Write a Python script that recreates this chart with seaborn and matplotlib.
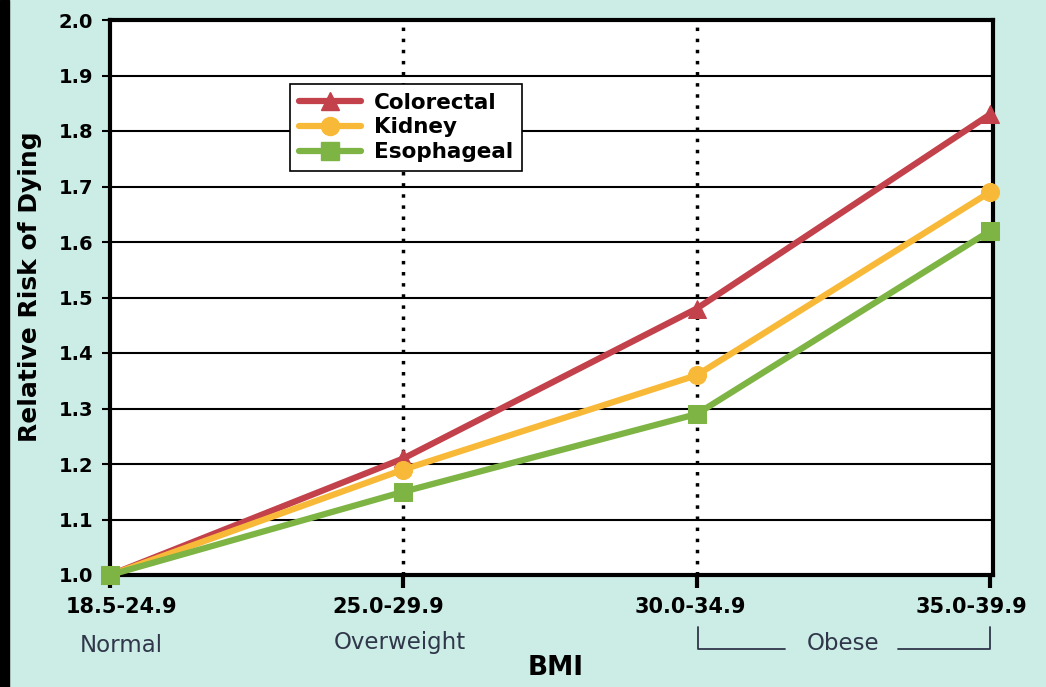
import matplotlib
matplotlib.use("Agg")
import matplotlib.pyplot as plt
import matplotlib.transforms as mtransforms
from matplotlib.lines import Line2D
from matplotlib.patches import Rectangle
import seaborn as sns
import pandas as pd
import numpy as np

# ---- data ----
bmi_ranges = ["18.5-24.9", "25.0-29.9", "30.0-34.9", "35.0-39.9"]
bmi_classes = ["Normal", "Overweight", "Obese"]
series_names = ["Colorectal", "Kidney", "Esophageal"]
colorectal = [1.00, 1.21, 1.48, 1.83]
kidney = [1.00, 1.19, 1.36, 1.69]
esophageal = [1.00, 1.15, 1.29, 1.62]
y_ticks = [1.0, 1.1, 1.2, 1.3, 1.4, 1.5, 1.6, 1.7, 1.8, 1.9, 2.0]

colors = {"Colorectal": "#c2414b", "Kidney": "#f8b938", "Esophageal": "#7db443"}
markers = {"Colorectal": "^", "Kidney": "o", "Esophageal": "s"}

df = pd.DataFrame({
    "BMI": bmi_ranges * 3,
    "Risk": colorectal + kidney + esophageal,
    "Cancer": sum([[n] * len(bmi_ranges) for n in series_names], []),
})

sns.set_theme(style="white")
plt.rcParams["font.family"] = ["DejaVu Sans"]
plt.rcParams["text.color"] = "black"
plt.rcParams["xtick.color"] = "black"
plt.rcParams["ytick.color"] = "black"

BG = "#cbede6"
W, H = 1046, 687
fig = plt.figure(figsize=(W / 100, H / 100), dpi=100, facecolor=BG)
ax = fig.add_axes([110 / W, 1 - 575 / H, (993 - 110) / W, (575 - 20) / H])
ax.set_facecolor("white")

# grid and dotted separators
for y in y_ticks[1:-1]:
    ax.axhline(y, color="black", lw=1.5, zorder=1)
for xv in [1, 2]:
    ax.axvline(xv, color="black", lw=2.5, ls=(0, (1, 2.2)), zorder=1)

sns.lineplot(data=df, x="BMI", y="Risk", hue="Cancer", style="Cancer",
             palette=colors, markers=markers, dashes=False, sort=False,
             linewidth=4.5, markersize=13, legend=False, ax=ax, zorder=3)

for line in ax.lines:
    if line.get_marker() not in (None, "None", ""):
        line.set_markeredgecolor(line.get_color())
        line.set_clip_on(False)

ax.set_xlim(0, 3.01)
ax.set_ylim(1.0, 2.0)
ax.set_yticks(y_ticks)
ax.set_yticklabels([f"{v:.1f}" for v in y_ticks], fontsize=14, fontweight="bold",
                   color="black")
ax.set_xticks(range(len(bmi_ranges)))
ax.set_xticklabels([])

ax.tick_params(axis="x", length=9, width=3, color="black", bottom=True)
ax.tick_params(axis="y", length=6, width=1.5, color="black", pad=6, left=True)

# x tick labels, slightly offset like the reference
blend = mtransforms.blended_transform_factory(ax.transData, fig.transFigure)
shifts = [11, -15, -6, -19]
for i, (lab, dx) in enumerate(zip(bmi_ranges, shifts)):
    tr = blend + mtransforms.ScaledTranslation(dx / 100, 0, fig.dpi_scale_trans)
    ax.text(i, 1 - 607 / H, lab, transform=tr, ha="center", va="center",
            fontsize=15, fontweight="bold", color="black", clip_on=False)

for s in ax.spines.values():
    s.set_color("black")
    s.set_linewidth(3)

ax.set_xlabel("")
ax.set_ylabel("")

# legend
handles = [Line2D([], [], color=colors[n], marker=markers[n], lw=4.5,
                  markersize=13, markeredgecolor=colors[n]) for n in series_names]
leg = ax.legend(handles, series_names, loc="upper left",
                bbox_to_anchor=((290 - 110) / (993 - 110), 1 - (84 - 20) / 555),
                borderaxespad=0, frameon=True, fancybox=False, edgecolor="black",
                framealpha=1, handlelength=2.9, handletextpad=0.6,
                labelspacing=0.22, borderpad=0.4,
                prop={"weight": "bold", "size": 15.5})
leg.get_frame().set_linewidth(1.2)
for t in leg.get_texts():
    t.set_color("black")

# axis labels
fig.text(30 / W, 1 - 287 / H, "Relative Risk of Dying", rotation=90,
         ha="center", va="center", fontsize=18, fontweight="bold", color="black")
fig.text(556 / W, 1 - 668 / H, "BMI", ha="center", va="center",
         fontsize=19, fontweight="bold", color="black")

# BMI class labels
cls_color = "#30374a"
fig.text(121 / W, 1 - 645 / H, bmi_classes[0], ha="center", va="center",
         fontsize=16.5, color=cls_color)
fig.text(400 / W, 1 - 643 / H, bmi_classes[1], ha="center", va="center",
         fontsize=16.5, color=cls_color)
fig.text(843 / W, 1 - 643 / H, bmi_classes[2], ha="center", va="center",
         fontsize=16.5, color=cls_color)

def fl(xs, ys, **kw):
    fig.add_artist(Line2D([x / W for x in xs], [1 - y / H for y in ys],
                          transform=fig.transFigure, **kw))

fl([698, 698, 785], [627, 649, 649], color=cls_color, lw=1.3)
fl([898, 990, 990], [649, 649, 627], color=cls_color, lw=1.3)

# black bar at left edge
fig.add_artist(Rectangle((0, 0), 9 / W, 1, transform=fig.transFigure,
                         color="black", zorder=10))

fig.savefig("out.png", dpi=100, facecolor=BG)
